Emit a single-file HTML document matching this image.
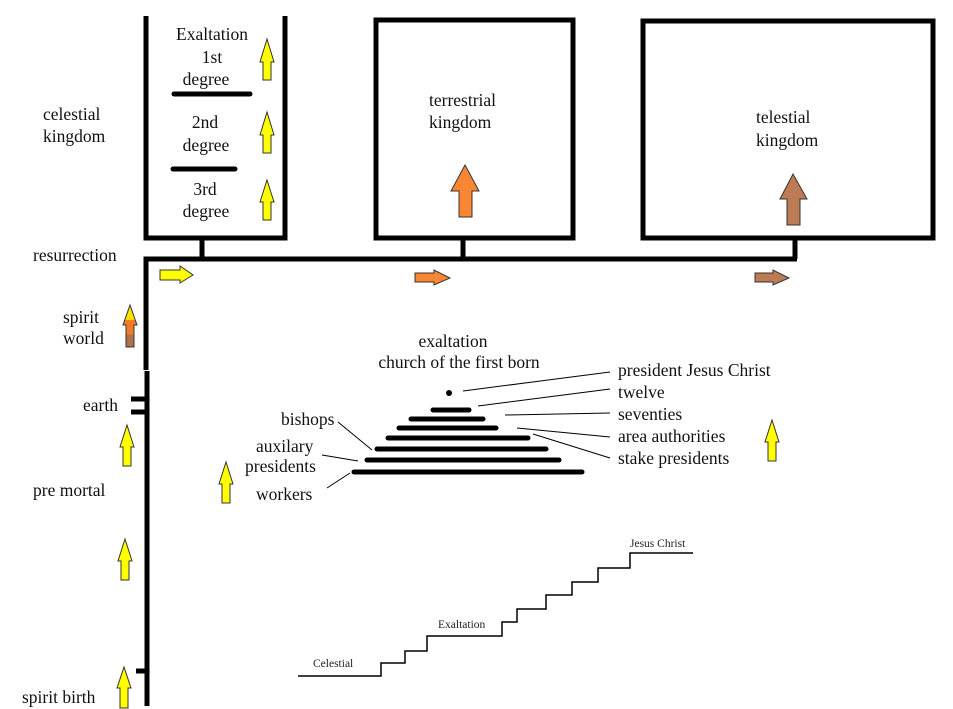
<!DOCTYPE html>
<html><head><meta charset="utf-8"><style>
html,body{margin:0;padding:0;background:#fff;}
svg{display:block;}
svg text{font-family:"Liberation Serif","Times New Roman","DejaVu Serif",serif !important;font-size:17.5px;fill:#111;}
svg text.s{font-size:11.5px;fill:#222;}
</style></head><body>
<svg width="953" height="709" viewBox="0 0 953 709" xmlns="http://www.w3.org/2000/svg">
<g stroke="#000" stroke-width="5" fill="none">
  <polyline points="146,16 146,238 285,238 285,16"/>
  <rect x="376" y="20" width="197" height="218"/>
  <rect x="643" y="21" width="290" height="217"/>
  <line x1="202" y1="238" x2="202" y2="259"/>
  <line x1="463" y1="238" x2="463" y2="259"/>
  <line x1="795" y1="238" x2="795" y2="259"/>
  <polyline points="797,259 146,259 146,370"/>
  <line x1="147" y1="371" x2="147" y2="706"/>
  <line x1="131" y1="399" x2="147" y2="399"/>
  <line x1="131" y1="412" x2="147" y2="412"/>
  <line x1="136" y1="671" x2="147" y2="671"/>
</g>
<g stroke="#000" stroke-width="5" stroke-linecap="round">
  <line x1="174" y1="94" x2="250" y2="94"/>
  <line x1="173" y1="169" x2="235" y2="169"/>
  <line x1="433" y1="410" x2="469" y2="410"/>
  <line x1="411" y1="419" x2="483" y2="419"/>
  <line x1="399" y1="428" x2="496" y2="428"/>
  <line x1="388" y1="438" x2="528" y2="438"/>
  <line x1="377" y1="449" x2="546" y2="449"/>
  <line x1="367" y1="460" x2="559" y2="460"/>
  <line x1="354" y1="472" x2="582" y2="472"/>
</g>
<circle cx="449" cy="393" r="3" fill="#000"/>
<g stroke="#000" stroke-width="1">
  <line x1="463" y1="391" x2="610" y2="372"/>
  <line x1="478" y1="406" x2="610" y2="389"/>
  <line x1="505" y1="415" x2="610" y2="413"/>
  <line x1="517" y1="428" x2="610" y2="437"/>
  <line x1="533" y1="434" x2="610" y2="458"/>
  <line x1="338" y1="422" x2="372" y2="450"/>
  <line x1="322" y1="455" x2="358" y2="461"/>
  <line x1="327" y1="488" x2="350" y2="473"/>
  <polyline fill="none" stroke-width="1.5" points="298,676 381,676 381,663 405,663 405,651 427,651 427,636 502,636 502,622 517,622 517,609 546,609 546,595 572,595 572,582 598,582 598,568 630,568 630,553 693,553"/>
</g>
<defs>
<linearGradient id="g" x1="0" y1="0" x2="0" y2="1">
<stop offset="0.35" stop-color="#ffe000"/><stop offset="0.36" stop-color="#f07c2a"/><stop offset="0.7" stop-color="#f07c2a"/><stop offset="0.71" stop-color="#b07050"/>
</linearGradient>
</defs>
<g stroke="#333" stroke-width="1" fill="#ffff00">
  <polygon points="267,39 274,62 271,62 271,80 263,80 263,62 260,62"/>
  <polygon points="267,112 274,135 271,135 271,153 263,153 263,135 260,135"/>
  <polygon points="267,180 274,202 271,202 271,220 263,220 263,202 260,202"/>
  <polygon points="127,425 134,447 131,447 131,466 123,466 123,447 120,447"/>
  <polygon points="125,539 132,561 129,561 129,580 121,580 121,561 118,561"/>
  <polygon points="124,667 131,688 128,688 128,708 120,708 120,688 117,688"/>
  <polygon points="226,462 233,484 230,484 230,503 222,503 222,484 219,484"/>
  <polygon points="772,420 779,442 776,442 776,461 768,461 768,442 765,442"/>
  <polygon points="130,305 137,325 134,325 134,347 126,347 126,325 123,325" fill="url(#g)"/>
  <polygon points="465,165 479,191 472,191 472,217 459,217 459,191 451,191" fill="#f98632"/>
  <polygon points="793,174 807,199 800,199 800,225 787,225 787,199 780,199" fill="#bc7b55"/>
  <polygon points="160,270 180,270 180,266 193,275 180,283 180,280 160,280"/>
  <polygon points="415,273 434,273 434,270 450,278 434,285 434,282 415,282" fill="#f98632"/>
  <polygon points="755,273 773,273 773,270 789,278 773,285 773,282 755,282" fill="#bc7b55"/>
</g>
<g font-family="Liberation Serif, Times New Roman, serif" font-size="17.5">
<text x="43" y="120">celestial</text>
<text x="43" y="142">kingdom</text>
<text x="212" y="40" text-anchor="middle">Exaltation</text>
<text x="212" y="63" text-anchor="middle">1st</text>
<text x="206" y="85" text-anchor="middle">degree</text>
<text x="205" y="128" text-anchor="middle">2nd</text>
<text x="206" y="151" text-anchor="middle">degree</text>
<text x="205" y="195" text-anchor="middle">3rd</text>
<text x="206" y="217" text-anchor="middle">degree</text>
<text x="429" y="106">terrestrial</text>
<text x="429" y="128">kingdom</text>
<text x="756" y="123">telestial</text>
<text x="756" y="146">kingdom</text>
<text x="33" y="261">resurrection</text>
<text x="63" y="323">spirit</text>
<text x="63" y="344">world</text>
<text x="83" y="411">earth</text>
<text x="33" y="496">pre mortal</text>
<text x="22" y="703">spirit birth</text>
<text x="453" y="347" text-anchor="middle">exaltation</text>
<text x="459" y="368" text-anchor="middle">church of the first born</text>
<text x="618" y="376">president  Jesus Christ</text>
<text x="618" y="398">twelve</text>
<text x="618" y="420">seventies</text>
<text x="618" y="442">area authorities</text>
<text x="618" y="464">stake presidents</text>
<text x="281" y="425">bishops</text>
<text x="256" y="452">auxilary</text>
<text x="245" y="472">presidents</text>
<text x="256" y="500">workers</text>
<text class="s" x="313" y="667">Celestial</text>
<text class="s" x="438" y="628">Exaltation</text>
<text class="s" x="630" y="547">Jesus Christ</text>
</g>
</svg>
</body></html>
